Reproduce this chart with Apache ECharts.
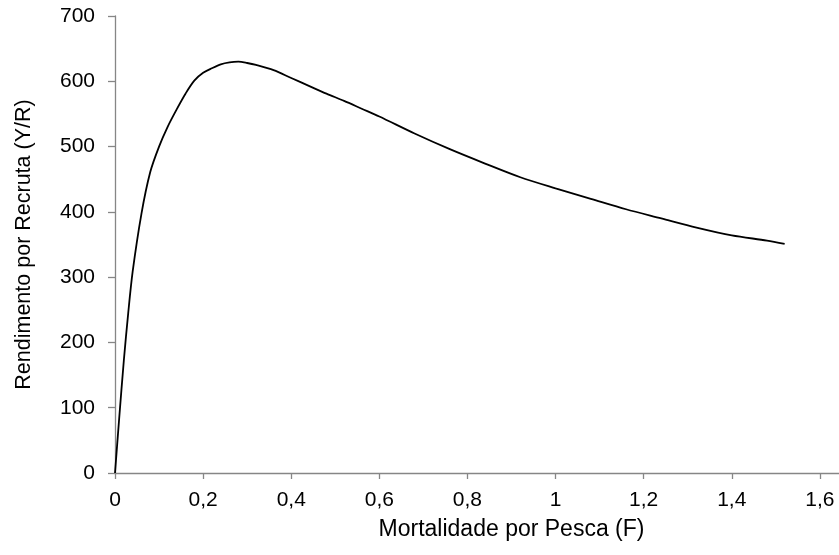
<!DOCTYPE html>
<html>
<head>
<meta charset="utf-8">
<script src="https://cdn.jsdelivr.net/npm/echarts@6/dist/echarts.min.js"></script>
<style>
  html, body { margin: 0; padding: 0; background: #ffffff; overflow: hidden; }
  #chart { width: 839px; height: 555px; }
</style>
</head>
<body>
<div id="chart"></div>
<script>
// Fishing mortality (F) and yield per recruit (Y/R)
const fishingMortality = [0, 0.01, 0.02, 0.03, 0.04, 0.06, 0.08, 0.10, 0.12, 0.14, 0.16, 0.18, 0.20,
  0.22, 0.24, 0.26, 0.28, 0.30, 0.32, 0.36, 0.40, 0.44, 0.48, 0.52, 0.56, 0.60, 0.68, 0.76,
  0.84, 0.92, 1.00, 1.08, 1.16, 1.24, 1.32, 1.40, 1.48, 1.52];
const yieldPerRecruit = [0, 88, 172, 245, 308, 397, 461, 500, 531, 557, 581, 601, 613,
  620, 626, 629, 630, 628, 625, 617, 605, 593, 581, 570, 558, 546, 520, 496,
  474, 453, 436, 420, 404, 390, 376, 364, 356, 351];

// Axis ranges and tick steps
const xRange = [0, 1.8];
const xStep = 0.2;
const yRange = [0, 700];
const yStep = 100;

const points = fishingMortality.map((f, i) => [f, yieldPerRecruit[i]]);

const axisColor = '#868686';
const fontFamily = 'Liberation Sans, Arial, sans-serif';

const chart = echarts.init(document.getElementById('chart'), null, { renderer: 'canvas' });
chart.setOption({
  backgroundColor: '#ffffff',
  animation: false,
  // the plot area runs past the right edge of the page
  grid: { left: 115, top: 16, right: -69, bottom: 82, outerBoundsMode: 'none' },
  xAxis: {
    type: 'value',
    min: xRange[0],
    max: xRange[1],
    interval: xStep,
    name: 'Mortalidade por Pesca (F)',
    nameLocation: 'middle',
    nameGap: 45,
    nameTextStyle: { fontFamily, fontSize: 23, color: '#000' },
    axisLine: { show: true, lineStyle: { color: axisColor, width: 1.3 } },
    axisTick: { show: true, inside: false, length: 6, lineStyle: { color: axisColor, width: 1.3 } },
    axisLabel: {
      margin: 17,
      fontFamily, fontSize: 21, color: '#000',
      formatter: v => String(Math.round(v * 10) / 10).replace('.', ',')
    },
    splitLine: { show: false }
  },
  yAxis: {
    type: 'value',
    min: yRange[0],
    max: yRange[1],
    interval: yStep,
    name: 'Rendimento por Recruta (Y/R)',
    nameLocation: 'middle',
    nameGap: 80,
    nameTextStyle: { fontFamily, fontSize: 21.5, color: '#000' },
    axisLine: { show: true, lineStyle: { color: axisColor, width: 1.3 } },
    axisTick: { show: true, inside: false, length: 7, lineStyle: { color: axisColor, width: 1.3 } },
    axisLabel: {
      margin: 20,
      fontFamily, fontSize: 21, color: '#000'
    },
    splitLine: { show: false }
  },
  series: [{
    type: 'line',
    data: points,
    showSymbol: false,
    smooth: 0.3,
    lineStyle: { color: '#000000', width: 1.8 },
    z: 5
  }]
});
</script>
</body>
</html>
